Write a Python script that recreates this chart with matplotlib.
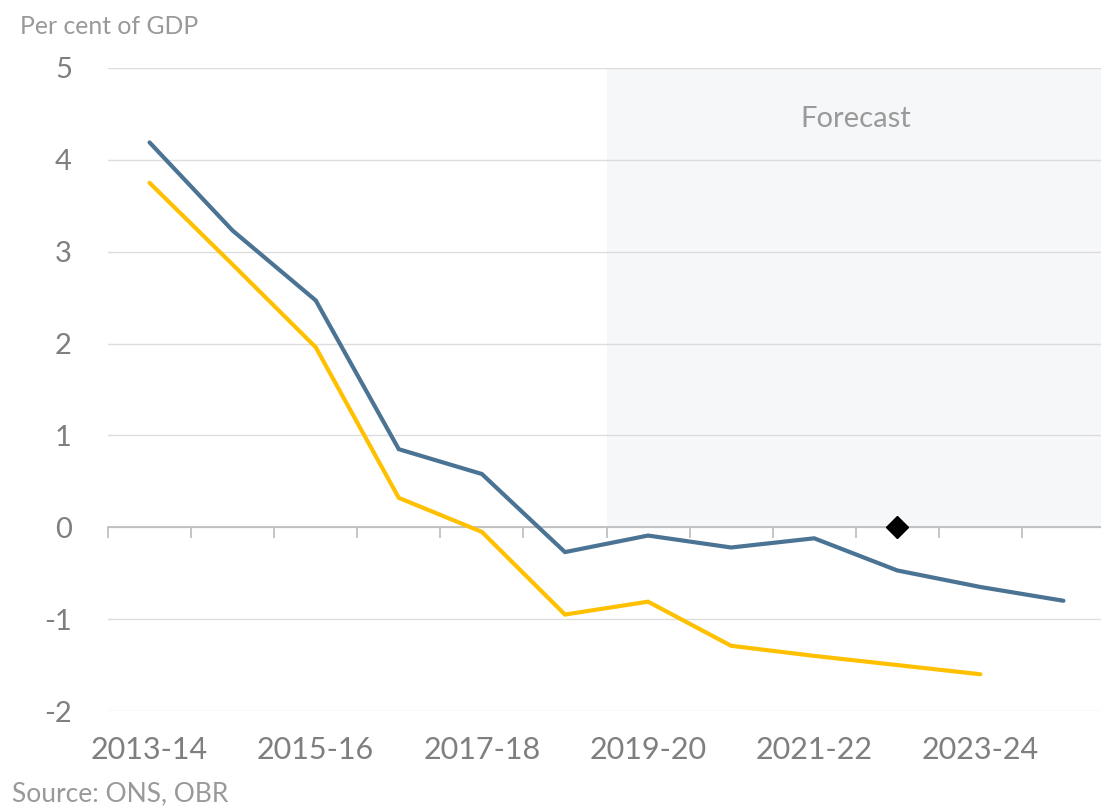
import numpy as np
import matplotlib
matplotlib.use("Agg")
import matplotlib.pyplot as plt

plt.rcParams['font.family'] = ['Lato', 'DejaVu Sans']

# financial years
years = ['2013-14', '2014-15', '2015-16', '2016-17', '2017-18', '2018-19',
         '2019-20', '2020-21', '2021-22', '2022-23', '2023-24', '2024-25']
# blue series (per cent of GDP)
blue_vals = [4.19, 3.23, 2.47, 0.85, 0.58, -0.27, -0.09, -0.22, -0.12, -0.47, -0.65, -0.80]
# yellow series, one year shorter
yellow_vals = [3.75, 2.86, 1.96, 0.32, -0.05, -0.95, -0.81, -1.29, -1.40, -1.50, -1.60]
# single marker
diamond_year = '2022-23'
diamond_val = 0.0
forecast_start = '2019-20'

blue_col = '#4b7393'
yellow_col = '#ffc000'
grey_txt = '#7f7f7f'

x = np.arange(len(years))
fig = plt.figure(figsize=(11.01, 8.07), dpi=100)
ax = fig.add_axes([108 / 1101, 96 / 807, 997 / 1101, 643 / 807])

ax.set_xlim(-0.5, len(years) - 0.5)
ax.set_ylim(-2, 5)

# forecast shading
fs = years.index(forecast_start) - 0.5
ax.fill_between([fs, len(years) - 0.5], 0, 5, color='#f6f7f9', zorder=0, lw=0)
ax.text((fs + len(years) - 0.5) / 2, 4.45, 'Forecast', ha='center', va='center',
        fontsize=21, color='#9a9a9a')

# gridlines
ax.set_yticks(np.arange(-2, 6, 1))
ax.set_yticklabels([str(v) for v in range(-2, 6)])
ax.grid(axis='y', color='#dddddd', lw=1, zorder=1)
ax.tick_params(axis='y', length=0, pad=26, labelsize=21, labelcolor=grey_txt)

for s in ['left', 'right', 'top']:
    ax.spines[s].set_visible(False)

# zero axis with category boundary ticks
ax.spines['bottom'].set_position(('data', 0))
ax.spines['bottom'].set_color('#bbbbbb')
ax.spines['bottom'].set_linewidth(1.2)
ax.spines['bottom'].set_zorder(2)
ax.set_xticks(x - 0.5)
ax.set_xticklabels([])
ax.tick_params(axis='x', direction='out', length=8, width=1.2, color='#bbbbbb')

# labels at bottom
sec = ax.secondary_xaxis('bottom')
sec.set_xticks(x[::2])
sec.set_xticklabels(years[::2])
sec.tick_params(length=0, pad=18, labelsize=22, labelcolor=grey_txt)
sec.spines['bottom'].set_visible(False)

ax.plot(x, blue_vals, color=blue_col, lw=3, solid_capstyle='round',
        solid_joinstyle='miter', zorder=4)
ax.plot(x[:len(yellow_vals)], yellow_vals, color=yellow_col, lw=3,
        solid_capstyle='round', solid_joinstyle='miter', zorder=4)
ax.plot([years.index(diamond_year)], [diamond_val], marker='D', ms=11.5,
        color='black', ls='none', zorder=5, clip_on=False)

fig.text(20 / 1101, 1 - 26 / 807, 'Per cent of GDP', fontsize=17.8,
         color='#999999', va='center', ha='left')
fig.text(12 / 1101, 1 - 794 / 807, 'Source: ONS, OBR', fontsize=19,
         color='#999999', va='center', ha='left')

fig.savefig('out.png', dpi=100)
